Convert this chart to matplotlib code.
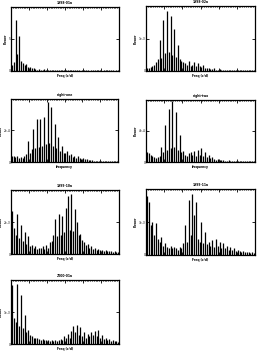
import numpy as np
import matplotlib
matplotlib.use("Agg")
import matplotlib.pyplot as plt
from matplotlib.ticker import MultipleLocator

# Power spectra, relative heights (percent of panel maximum), 60 frequency bins 0-60 c/d
titles = ["1998-01a", "1998-02a", "night-one", "night-two", "1999-10a", "1999-11a", "2000-01a"]
xlabels = ["Freq (c/d)", "Freq (c/d)", "frequency", "frequency", "Freq (c/d)", "Freq (c/d)", "Freq (c/d)"]
ytop_labels = ["5", "1e-3", "2e-4", "4e-4", "2e-3", "3e-3", "1e-3"]

p1 = [10, 14, 80, 26, 54, 15, 12, 9, 11, 6, 7, 4, 5, 3, 2, 3, 2, 2, 3, 1,
      2, 1, 1, 1, 1, 1, 1, 1, 1, 1, 1, 1, 1, 1, 1, 1, 1, 1, 0, 1,
      1, 1, 1, 0, 1, 1, 1, 1, 1, 1, 0, 1, 1, 1, 1, 1, 1, 0, 1, 1]
p2 = [4, 5, 6, 8, 10, 14, 18, 47, 20, 79, 28, 93, 30, 85, 24, 64, 22, 40, 18, 16,
      14, 12, 10, 16, 8, 10, 14, 8, 12, 7, 6, 9, 5, 4, 5, 3, 3, 4, 2, 2,
      3, 2, 2, 2, 1, 2, 1, 2, 1, 1, 2, 1, 1, 1, 2, 1, 1, 1, 1, 1]
p3 = [10, 9, 8, 10, 6, 8, 7, 9, 12, 33, 14, 20, 52, 22, 69, 24, 68, 26, 71, 28,
      95, 30, 88, 26, 60, 22, 40, 18, 26, 15, 14, 18, 11, 12, 8, 10, 7, 9, 6, 5,
      6, 4, 4, 3, 3, 3, 2, 2, 2, 2, 2, 2, 1, 2, 1, 1, 1, 2, 1, 1]
p4 = [16, 14, 12, 10, 8, 6, 8, 10, 25, 16, 60, 20, 86, 22, 98, 24, 80, 20, 44, 16,
      18, 12, 10, 14, 16, 12, 18, 10, 20, 12, 22, 10, 16, 8, 12, 6, 8, 5, 4, 5,
      3, 3, 4, 2, 2, 3, 2, 2, 2, 1, 2, 1, 1, 2, 1, 1, 1, 1, 1, 1]
p5 = [67, 40, 30, 63, 25, 45, 20, 35, 16, 28, 12, 14, 10, 12, 8, 10, 9, 12, 8, 14,
      10, 18, 20, 30, 55, 28, 62, 30, 60, 34, 72, 90, 38, 93, 36, 70, 50, 30, 32, 22,
      18, 14, 16, 10, 12, 8, 10, 7, 8, 6, 6, 5, 6, 4, 5, 4, 3, 4, 3, 3]
p6 = [90, 80, 45, 50, 30, 48, 25, 20, 28, 14, 18, 12, 10, 14, 10, 12, 10, 8, 12, 10,
      18, 45, 20, 83, 30, 93, 60, 80, 25, 20, 50, 18, 35, 16, 20, 14, 22, 12, 25, 14,
      20, 10, 18, 10, 14, 8, 12, 8, 10, 6, 8, 6, 5, 6, 4, 5, 4, 3, 4, 3]
p7 = [92, 40, 35, 93, 28, 77, 25, 45, 18, 22, 14, 12, 10, 9, 10, 8, 7, 8, 6, 7,
      6, 5, 6, 5, 6, 5, 6, 8, 7, 12, 9, 15, 10, 20, 28, 18, 30, 14, 26, 12,
      18, 10, 16, 12, 18, 14, 20, 12, 22, 10, 14, 8, 10, 6, 8, 5, 6, 4, 5, 3]
spectra = [p1, p2, p3, p4, p5, p6, p7]

# axes boxes in pixels: left, top, right, bottom
boxes = [(11, 7, 119, 71), (146, 6, 255, 71),
         (11, 99, 118, 162), (146, 100, 255, 162),
         (11, 190, 119, 254), (146, 189, 255, 255),
         (11, 280, 119, 344)]

W, H = 257, 353
fig = plt.figure(figsize=(W / 100, H / 100), dpi=100)
fs = 2.2

for spec, box, title, xl, ytop in zip(spectra, boxes, titles, xlabels, ytop_labels):
    l, t, r, b = box
    ax = fig.add_axes([l / W, 1 - b / H, (r - l) / W, (b - t) / H])
    freq = np.arange(len(spec)) + 0.5
    ax.vlines(freq, 0, spec, color="black", linewidth=0.9)
    ax.set_xlim(0, 60)
    ax.set_ylim(0, 100)
    ax.xaxis.set_major_locator(MultipleLocator(10))
    ax.xaxis.set_minor_locator(MultipleLocator(1))
    ax.set_yticks([0, 50])
    ax.set_yticklabels(["0", ytop])
    ax.set_xticklabels([])
    ax.tick_params(which="both", direction="in", top=True, right=True,
                   labelsize=fs, pad=0.5, width=0.6)
    ax.tick_params(which="major", length=2)
    ax.tick_params(which="minor", length=1, bottom=False)
    ax.set_title(title, fontsize=fs, fontweight="bold", pad=2)
    ax.set_xlabel(xl, fontsize=fs, fontweight="bold", labelpad=2)
    ax.set_ylabel("Power", fontsize=fs, fontweight="bold", labelpad=0.5)
    for s in ax.spines.values():
        s.set_linewidth(0.9)

fig.savefig("out.png", dpi=100)
